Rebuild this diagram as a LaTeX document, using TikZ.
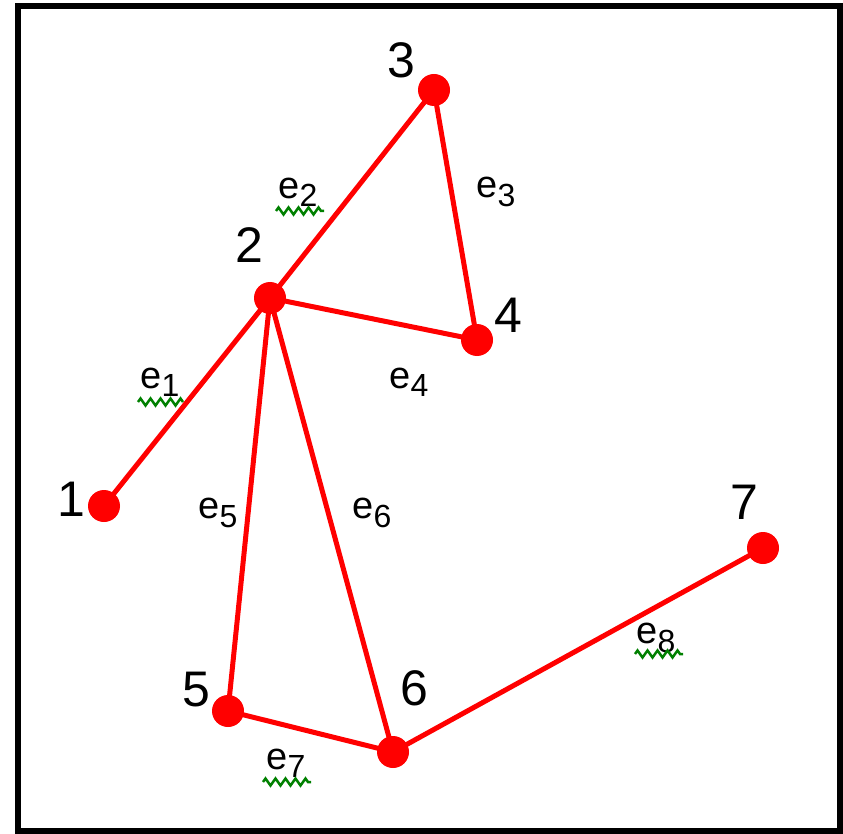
\documentclass[tikz,border=0pt]{standalone}
\usepackage{fontspec}
\setmainfont{Liberation Sans}
\usetikzlibrary{decorations.pathmorphing,calc}
\definecolor{netred}{RGB}{255,0,0}
\definecolor{squiggreen}{RGB}{0,128,0}
\newcommand{\elab}[1]{\fontsize{38}{38}\selectfont e\raisebox{-0.22em}{\fontsize{32}{32}\selectfont #1}}
\begin{document}
\begin{tikzpicture}[x=1pt,y=-1pt,
  dot/.style={circle,fill=netred,minimum size=32pt,inner sep=0pt},
  edge/.style={netred,line width=5pt},
  numlab/.style={font=\fontsize{50}{50}\selectfont,inner sep=0pt},
  elabel/.style={inner sep=0pt},
  squig/.style={squiggreen,line width=2.5pt,decorate,
    decoration={zigzag,segment length=10pt,amplitude=3.5pt}}]
\useasboundingbox (0,0) rectangle (843,834);
\draw[line width=6pt] (18,6) rectangle (840,831);
% vertices
\node[dot] (n1) at (104,506) {};
\node[dot] (n2) at (270,298) {};
\node[dot] (n3) at (434,90) {};
\node[dot] (n4) at (477,340) {};
\node[dot] (n5) at (228,711) {};
\node[dot] (n6) at (393,752) {};
\node[dot] (n7) at (763,548) {};
% edges
\draw[edge] (n1.center) -- (n2.center);
\draw[edge] (n2.center) -- (n3.center);
\draw[edge] (n3.center) -- (n4.center);
\draw[edge] (n2.center) -- (n4.center);
\draw[edge] (n2.center) -- (n5.center);
\draw[edge] (n2.center) -- (n6.center);
\draw[edge] (n5.center) -- (n6.center);
\draw[edge] (n6.center) -- (n7.center);
% vertex numbers
\node[numlab] (t1) at (71,499) {1};
\node[numlab] (t2) at (249,245) {2};
\node[numlab] (t3) at (401,60) {3};
\node[numlab] (t4) at (508,315) {4};
\node[numlab] (t5) at (196,690) {5};
\node[numlab] (t6) at (414,688) {6};
\node[numlab] (t7) at (744,502) {7};
% edge labels
\node[elabel] (l1) at (160,382) {\elab{1}};
\node[elabel] (l2) at (298,192) {\elab{2}};
\node[elabel] (l3) at (496,192) {\elab{3}};
\node[elabel] (l4) at (409,382) {\elab{4}};
\node[elabel] (l5) at (218,513) {\elab{5}};
\node[elabel] (l6) at (372,513) {\elab{6}};
\node[elabel] (l7) at (286,763) {\elab{7}};
\node[elabel] (l8) at (656,638) {\elab{8}};
% squiggly underlines
\draw[squig] ($(l1)+(-22,20)$) -- ++(45,0);
\draw[squig] ($(l2)+(-22,19)$) -- ++(48,0);
\draw[squig] ($(l7)+(-23,19)$) -- ++(48,0);
\draw[squig] ($(l8)+(-21,16)$) -- ++(48,0);
\end{tikzpicture}
\end{document}
